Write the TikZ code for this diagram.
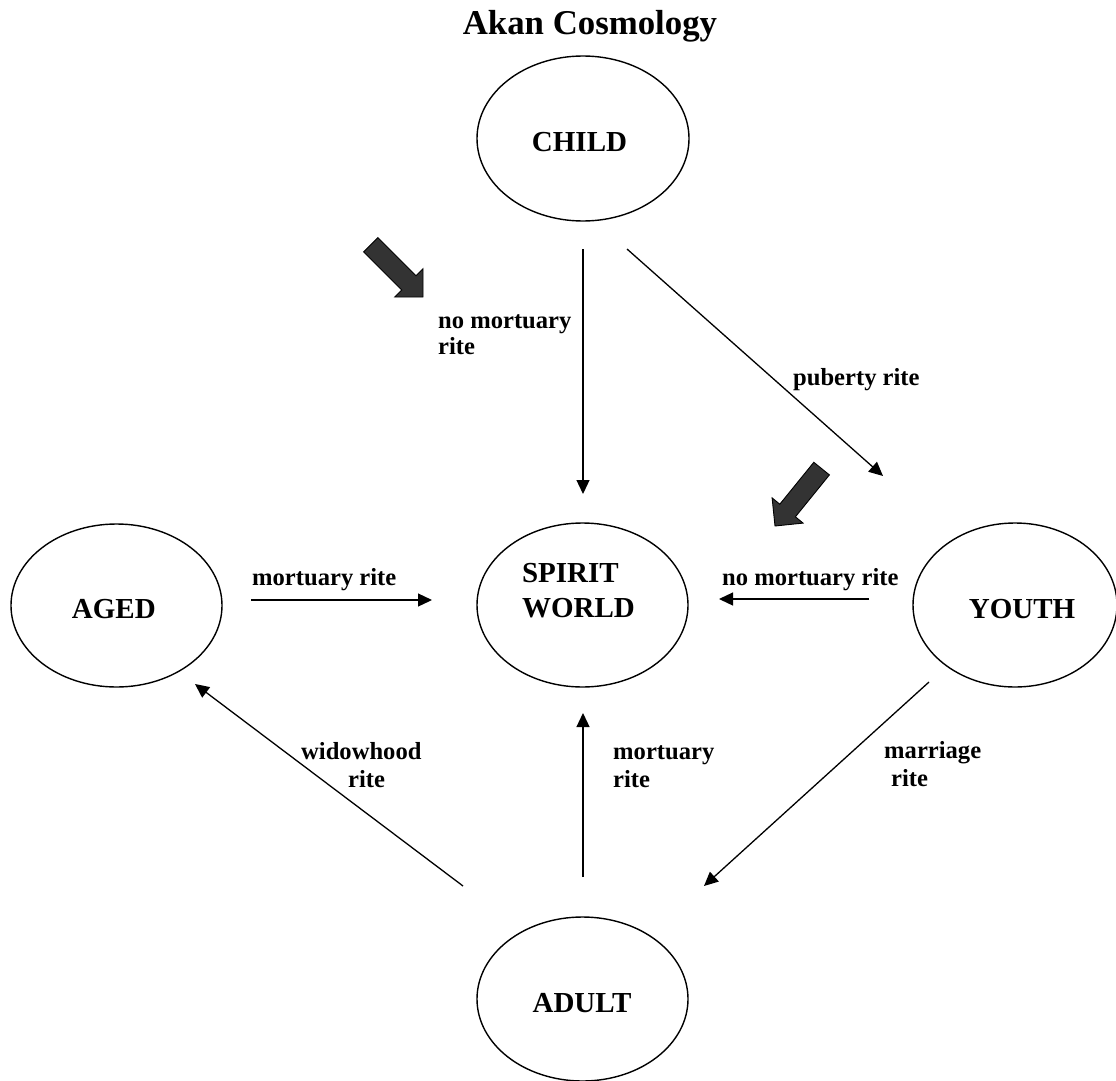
\documentclass[tikz,border=0pt]{standalone}
\usepackage{fontspec}
\setmainfont{Liberation Serif}
\usetikzlibrary{arrows.meta,shapes.geometric}
\newcommand\inell[3]{\raisebox{#2}[0pt][0pt]{\makebox[0pt][c]{\kern#1\kern#1#3}}}
\newcommand\inellL[3]{\raisebox{#2}[0pt][0pt]{\makebox[0pt][l]{\kern#1#3}}}
\begin{document}
\begin{tikzpicture}[x=1pt,y=-1pt,
  state/.style={ellipse, draw, line width=1.4pt, inner sep=0pt,
    font=\fontsize{29}{35}\selectfont\bfseries},
  lab/.style={anchor=base west, inner sep=0pt,
    font=\fontsize{24.6}{28}\selectfont\bfseries},
  conn/.style={line width=1.3pt, -{Triangle[length=14pt,width=13pt]}},
  blockarrow/.style={fill=black!80, draw=black, line width=0.9pt, line join=miter}]
\useasboundingbox (0,0) rectangle (1116,1081);

% title
\node[anchor=base, inner sep=0pt, font=\fontsize{34.8}{40}\selectfont\bfseries]
  (title) at (590,35) {Akan Cosmology};

% states
\node[state, minimum width=212pt, minimum height=165pt] (child) at (583,138.5)
  {\inell{-3.5pt}{-12.5pt}{CHILD}};
\node[state, minimum width=211pt, minimum height=164pt] (spirit) at (582.5,605)
  {\inellL{-60.5pt}{23pt}{\begin{tabular}[t]{@{}l@{}}SPIRIT\\WORLD\end{tabular}}};
\node[state, minimum width=211pt, minimum height=163pt] (aged) at (116.5,605.5)
  {\inell{-2.7pt}{-12.5pt}{AGED}};
\node[state, minimum width=204pt, minimum height=164pt] (youth) at (1015,605)
  {\inell{7pt}{-13pt}{YOUTH}};
\node[state, minimum width=211pt, minimum height=164pt] (adult) at (582.5,999)
  {\inell{-0.5pt}{-13pt}{ADULT}};

% connector end points
\coordinate (cs1) at (583,249);   \coordinate (ce1) at (583,494);
\coordinate (cs2) at (627,249);   \coordinate (ce2) at (883,476);
\coordinate (as1) at (251,600);   \coordinate (ae1) at (432,600);
\coordinate (ys1) at (869,599);   \coordinate (ye1) at (719,599);
\coordinate (ys2) at (929,682);   \coordinate (ye2) at (704,886);
\coordinate (ds1) at (583,877);   \coordinate (de1) at (583,713);
\coordinate (ds2) at (463,886);   \coordinate (de2) at (195,684);

\draw[conn] (cs1) -- (ce1);
\draw[conn] (cs2) -- (ce2);
\draw[conn] (as1) -- (ae1);
\draw[conn] (ys1) -- (ye1);
\draw[conn] (ys2) -- (ye2);
\draw[conn] (ds1) -- (de1);
\draw[conn] (ds2) -- (de2);

% labels
\node[lab] (l1) at (438,328)
  {\fontsize{24.6}{26}\selectfont\begin{tabular}[t]{@{}l@{}}no mortuary\\rite\end{tabular}};
\node[lab] (l2) at (793,385) {puberty rite};
\node[lab] (l3) at (252,585) {mortuary rite};
\node[lab] (l4) at (722,585) {no mortuary rite};
\node[lab] (l5) at (301,759)
  {\begin{tabular}[t]{@{}l@{}}widowhood\\\hspace*{47pt}rite\end{tabular}};
\node[lab] (l6) at (613,759)
  {\begin{tabular}[t]{@{}l@{}}mortuary\\rite\end{tabular}};
\node[lab] (l7) at (884,758)
  {\begin{tabular}[t]{@{}l@{}}marriage\\\hspace*{7pt}rite\end{tabular}};

% block arrows
\draw[blockarrow] (363.6,251.8) -- (401.8,290.0) -- (394.8,297.0) -- (423,297)
  -- (423.0,268.8) -- (416.0,275.8) -- (377.8,237.6) -- cycle;
\draw[blockarrow] (813.8,462.3) -- (779.8,504.2) -- (772.1,497.9) -- (775,526)
  -- (803.1,523.1) -- (795.4,516.8) -- (829.4,474.9) -- cycle;
\end{tikzpicture}
\end{document}
